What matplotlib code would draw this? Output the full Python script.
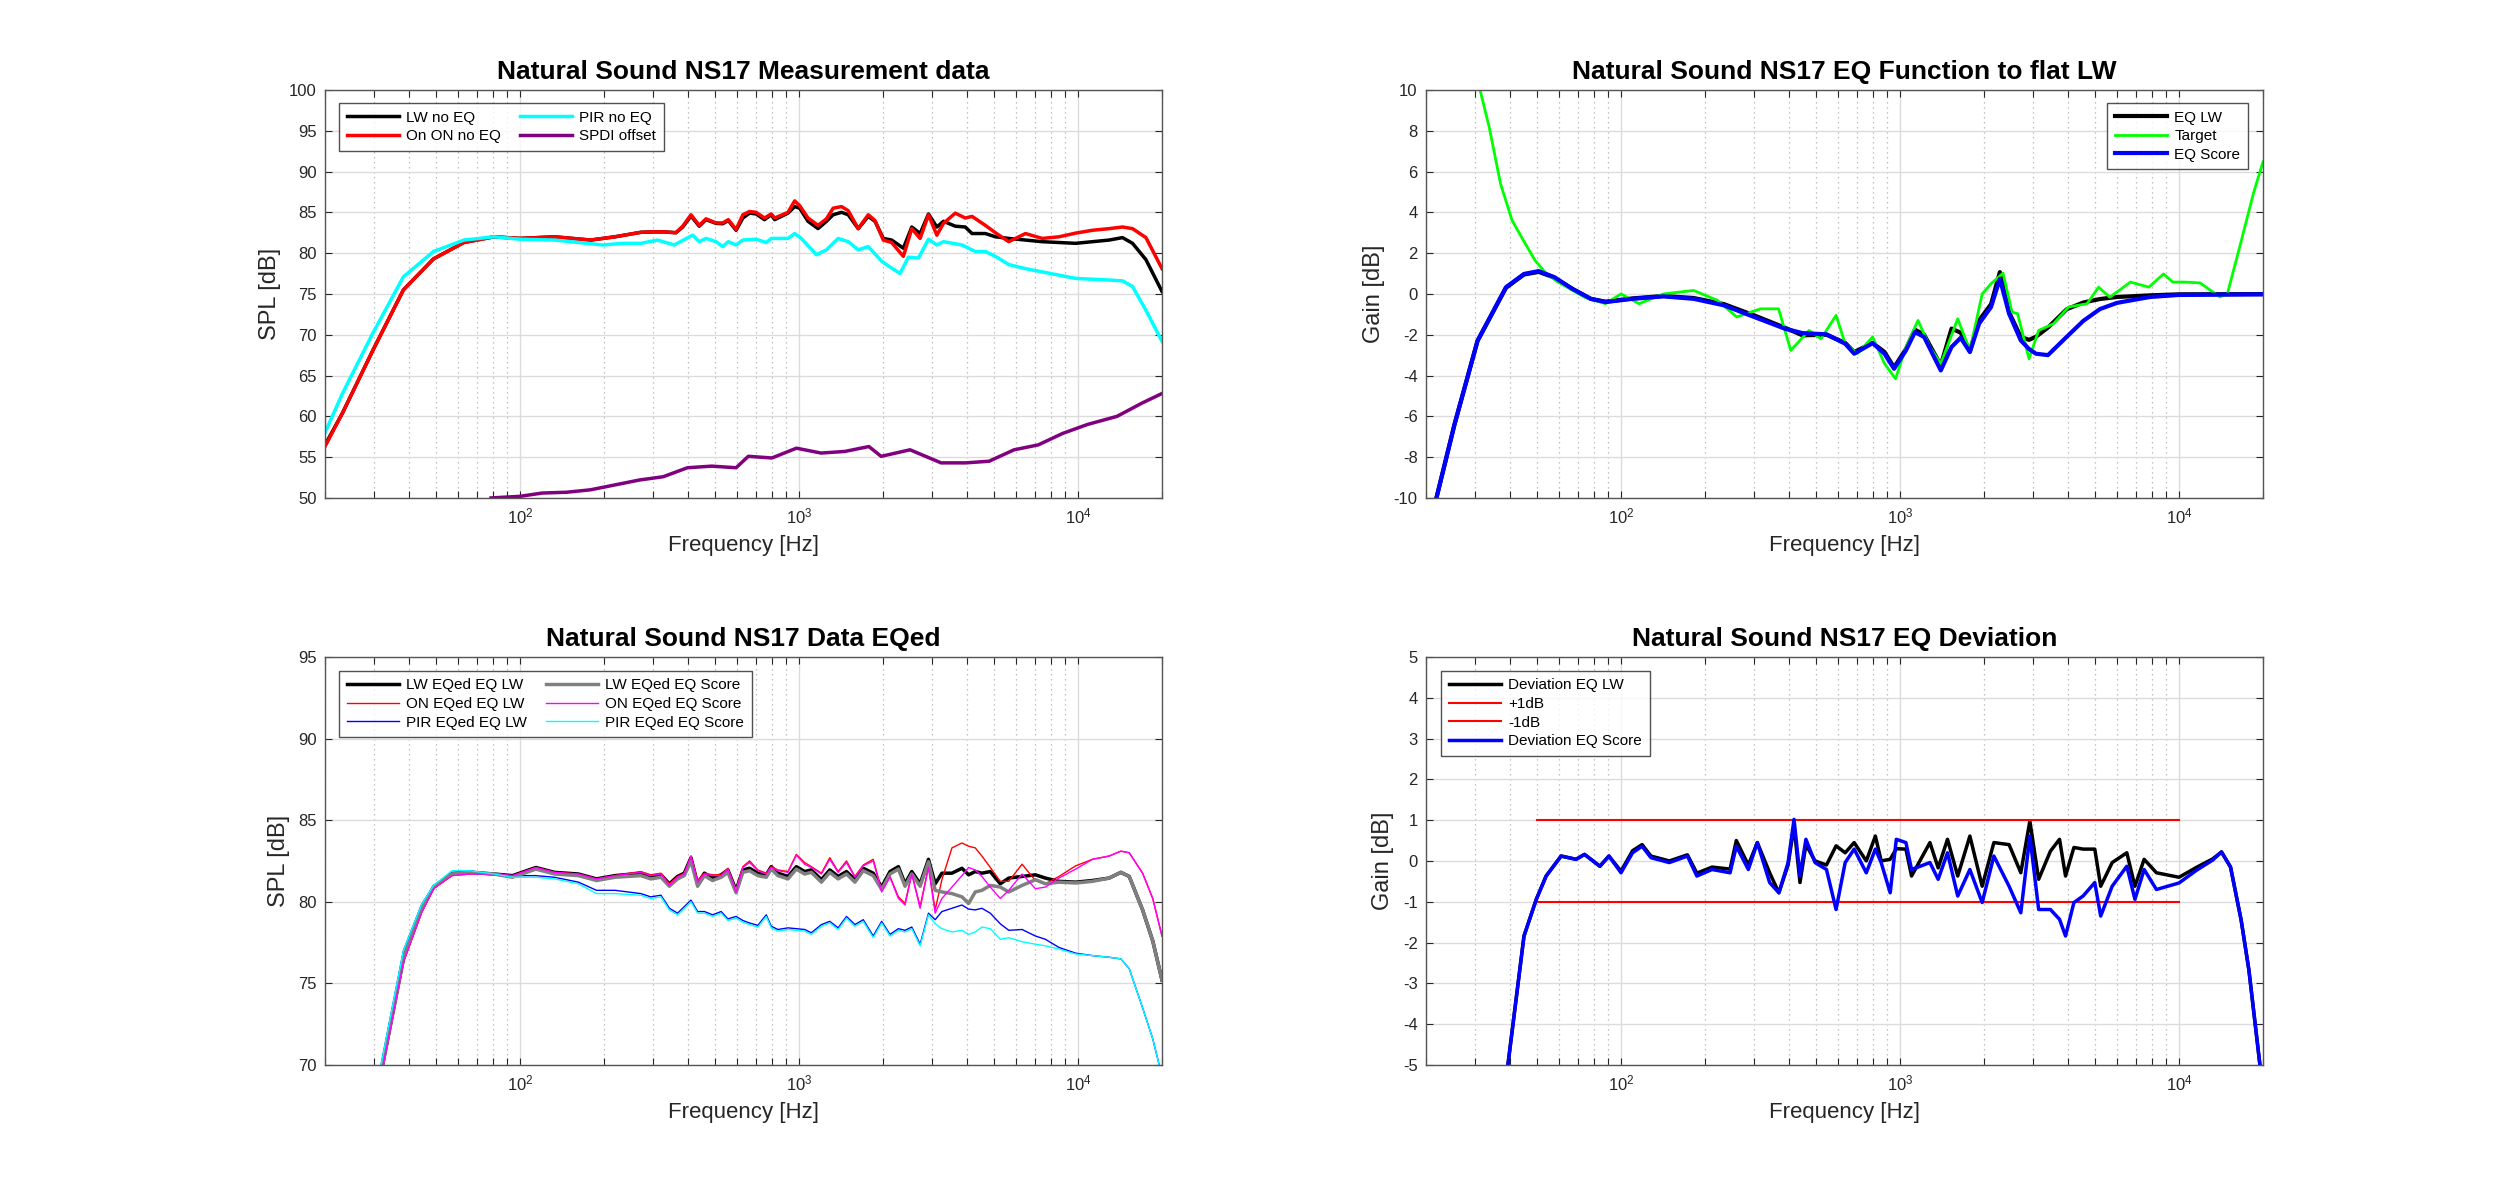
import matplotlib
matplotlib.use('Agg')
import matplotlib.pyplot as plt
from matplotlib.ticker import LogLocator, NullFormatter, MultipleLocator

plt.rcParams['font.family'] = ['Liberation Sans', 'DejaVu Sans']
plt.rcParams['mathtext.fontset'] = 'custom'
plt.rcParams['mathtext.rm'] = 'Liberation Sans'
plt.rcParams['mathtext.default'] = 'regular'
plt.rcParams['axes.unicode_minus'] = False

# --- Measurement data (top left) ---
meas_f_low = [20, 23.1, 29.7, 38.2, 49, 62.9, 80.7, 100, 133, 179, 219]
meas_f_mid = [271, 302, 329, 362, 383, 410, 439, 464, 504, 533, 558, 595, 629, 665, 702, 752,
              795, 818, 913, 965, 1006, 1077, 1170, 1254, 1325, 1420, 1501, 1630, 1771, 1872,
              2005, 2148, 2366, 2536, 2717, 2911, 3119, 3296, 3631, 3944, 4169, 4655, 5057,
              5647, 6483, 7443, 8545, 9809, 11264, 12928, 14439, 15684, 17516, 20000]
lw_noeq_low = [56.5, 60.4, 68.1, 75.5, 79.3, 81.3, 82.0, 81.8, 82.0, 81.6, 82.0]
lw_noeq_mid = [82.55, 82.6, 82.6, 82.5, 83.2, 84.55, 83.3, 84.1, 83.65, 83.6, 84.0, 82.8, 84.3,
               84.9, 84.8, 84.1, 84.7, 84.1, 84.9, 85.7, 85.5, 83.9, 83.0, 83.9, 84.7, 85.0,
               84.7, 83.0, 84.5, 83.9, 81.8, 81.6, 80.6, 83.2, 82.4, 84.8, 83.2, 83.9, 83.3,
               83.2, 82.4, 82.4, 82.0, 81.8, 81.6, 81.4, 81.3, 81.2, 81.4, 81.6, 81.9, 81.2,
               79.2, 75.3]
on_noeq_low = [56.3, 60.4, 68.1, 75.5, 79.3, 81.3, 82.0, 81.8, 82.0, 81.6, 82.0]
on_noeq_mid = [82.55, 82.6, 82.6, 82.5, 83.3, 84.7, 83.4, 84.2, 83.7, 83.7, 84.1, 82.9, 84.7,
               85.1, 85.0, 84.3, 84.8, 84.3, 85.0, 86.4, 85.8, 84.3, 83.4, 84.2, 85.5, 85.7,
               85.2, 83.0, 84.7, 84.0, 81.6, 81.3, 79.6, 83.0, 81.8, 84.7, 82.2, 83.65, 84.9,
               84.3, 84.5, 83.4, 82.5, 81.4, 82.4, 81.8, 82.0, 82.45, 82.8, 83.0, 83.2, 83.0,
               81.9, 78.1]
pir_f = [20, 23.1, 29.7, 38.2, 49, 62.9, 80.7, 100, 133, 198, 235, 271, 311, 357, 416, 439,
         464, 504, 533, 558, 595, 629, 702, 763, 795, 913, 965, 1019, 1155, 1254, 1381, 1501,
         1630, 1771, 1978, 2119, 2302, 2466, 2680, 2911, 3119, 3296, 3837, 4283, 4655, 5057,
         5647, 6483, 7443, 8545, 9809, 11264, 12928, 14439, 15684, 17516, 20000]
pir_noeq = [58.0, 62.8, 70.2, 77.1, 80.2, 81.6, 82.0, 81.7, 81.6, 81.0, 81.2, 81.2, 81.6, 81.0,
            82.2, 81.4, 81.8, 81.4, 80.8, 81.4, 81.0, 81.6, 81.7, 81.3, 81.8, 81.8, 82.4, 81.8,
            79.8, 80.4, 81.8, 81.4, 80.4, 80.8, 79.0, 78.3, 77.5, 79.5, 79.4, 81.7, 81.0, 81.4,
            81.0, 80.2, 80.2, 79.6, 78.6, 78.1, 77.7, 77.3, 76.9, 76.8, 76.7, 76.6, 75.9, 73.0,
            69.2]
spdi_f = [78.7, 100, 120, 147, 179, 219, 268, 326, 398, 487, 595, 658, 800, 979, 1200, 1460,
          1780, 1970, 2500, 3230, 3960, 4800, 5900, 7200, 8800, 10800, 13800, 16900, 20000]
spdi = [50.0, 50.2, 50.6, 50.7, 51.0, 51.6, 52.2, 52.6, 53.7, 53.9, 53.7, 55.1, 54.9, 56.1,
        55.5, 55.7, 56.3, 55.1, 55.9, 54.3, 54.3, 54.5, 55.9, 56.5, 57.9, 59.0, 60.0, 61.6, 62.8]

# --- EQ functions (top right) ---
eq_f = [20, 21.8, 25.3, 30.6, 38.7, 44.9, 50.7, 57.7, 66.9, 77.9, 88, 110, 142, 182, 234, 300,
        386, 447, 545, 636, 685, 798, 880, 952, 1050, 1131, 1220, 1400, 1530, 1650, 1780, 1920,
        2120, 2280, 2460, 2710, 2900, 3070, 3390, 3960, 4540, 5210, 5990, 7870, 10000, 20000]
eq_lw = [-12.0, -10.0, -6.4, -2.3, 0.3, 0.95, 1.08, 0.8, 0.25, -0.24, -0.38, -0.22, -0.1, -0.2,
         -0.5, -1.05, -1.65, -2.03, -2.0, -2.4, -2.85, -2.4, -2.85, -3.6, -2.7, -1.75, -2.0,
         -3.5, -1.7, -1.9, -2.8, -1.3, -0.5, 1.07, -0.9, -2.11, -2.25, -2.1, -1.65, -0.75,
         -0.42, -0.25, -0.15, -0.07, -0.02, -0.01]
eq_score = [-12.0, -10.0, -6.4, -2.3, 0.33, 0.98, 1.12, 0.82, 0.25, -0.24, -0.4, -0.24, -0.12,
            -0.24, -0.56, -1.13, -1.7, -1.92, -1.98, -2.44, -2.93, -2.41, -2.93, -3.67, -2.77,
            -1.87, -2.11, -3.75, -2.60, -2.15, -2.85, -1.46, -0.64, 0.74, -0.97, -2.28, -2.7,
            -2.93, -3.0, -2.1, -1.32, -0.74, -0.44, -0.15, -0.05, -0.02]
tgt_f = [30.6, 33.7, 37, 40.7, 44.7, 49.2, 54.1, 59.5, 74, 88, 100, 116, 142, 182, 222, 260,
         316, 367, 406, 472, 521, 590, 636, 703, 798, 880, 964, 1050, 1160, 1280, 1400, 1610,
         1780, 1970, 2120, 2340, 2520, 2640, 2900, 3140, 3550, 4020, 4680, 5150, 5650, 6700,
         7800, 8800, 9500, 10500, 11900, 14000, 14900, 16500, 18500, 20000]
target = [10.5, 8.17, 5.4, 3.6, 2.62, 1.64, 0.98, 0.58, -0.16, -0.48, 0.0, -0.48, 0.0, 0.17,
          -0.32, -1.13, -0.73, -0.73, -2.77, -1.79, -2.2, -1.05, -2.44, -2.93, -2.11, -3.42,
          -4.16, -2.6, -1.30, -2.6, -3.42, -1.22, -2.77, 0.0, 0.5, 1.02, -0.89, -0.97, -3.18,
          -1.79, -1.46, -0.64, -0.48, 0.33, -0.16, 0.58, 0.33, 0.98, 0.58, 0.58, 0.54, -0.15,
          0.0, 2.3, 4.95, 6.47]

# --- EQed data (bottom left) ---
eqd_f_low = [20, 25.3, 30.6, 32, 38.2, 44.3, 49, 57, 66, 80.7, 94, 114, 133, 162, 188, 219]
eqd_f_mid = [271, 294, 320, 343, 367, 388, 410, 433, 458, 490, 526, 556, 595, 629, 665, 712,
             763, 795, 840, 913, 978, 1048, 1107, 1203, 1289, 1381, 1480, 1586, 1699, 1845,
             1978, 2119, 2271, 2399, 2536, 2717, 2911, 3076, 3252, 3533, 3837, 4054, 4283,
             4524, 4848, 5264, 5647, 6301, 7036, 7640, 8545, 9809, 11264, 12928, 14240, 15260,
             17040, 18530, 20000]
lw_eq_lw_low = [45.0, 57.0, 68.0, 69.8, 76.5, 79.5, 80.9, 81.7, 81.8, 81.7, 81.6, 82.1, 81.8,
                81.7, 81.4, 81.6]
lw_eq_lw_mid = [81.75, 81.55, 81.65, 81.1, 81.55, 81.75, 82.7, 81.1, 81.75, 81.45, 81.65, 81.95,
                80.7, 81.95, 82.05, 81.75, 81.65, 82.15, 81.75, 81.55, 82.15, 81.85, 81.95,
                81.35, 81.95, 81.55, 81.85, 81.35, 82.05, 81.75, 80.9, 81.85, 82.15, 81.1,
                81.85, 81.1, 82.6, 81.1, 81.75, 81.75, 82.05, 81.65, 81.85, 81.75, 81.85, 81.1,
                81.45, 81.55, 81.65, 81.45, 81.25, 81.2, 81.3, 81.45, 81.8, 81.55, 79.5, 77.6,
                75.2]
on_eq_lw_low = [45.0, 56.8, 67.8, 69.6, 76.3, 79.3, 80.8, 81.6, 81.7, 81.7, 81.6, 82.1, 81.8,
                81.7, 81.4, 81.6]
on_eq_lw_mid = [81.85, 81.65, 81.75, 81.1, 81.55, 81.75, 82.8, 81.3, 81.75, 81.65, 81.65, 82.05,
                80.7, 82.15, 82.5, 81.95, 81.75, 82.15, 81.95, 81.85, 82.9, 82.4, 82.15, 81.75,
                82.7, 81.85, 82.5, 81.55, 82.25, 82.6, 80.7, 81.55, 80.3, 79.9, 81.75, 79.7,
                82.15, 79.5, 81.35, 83.3, 83.6, 83.4, 83.3, 82.8, 82.1, 81.25, 81.25, 82.3,
                81.3, 81.1, 81.55, 82.2, 82.6, 82.8, 83.1, 83.0, 81.75, 80.2, 77.9]
pir_eq_lw_low = [45.5, 57.5, 68.5, 70.3, 77.0, 79.8, 81.0, 81.8, 81.9, 81.7, 81.6, 81.6, 81.5,
                 81.2, 80.7, 80.7]
pir_eq_lw_mid = [80.5, 80.3, 80.4, 79.6, 79.3, 79.7, 80.1, 79.4, 79.4, 79.2, 79.4, 78.95, 79.1,
                 78.85, 78.7, 78.55, 79.2, 78.5, 78.3, 78.4, 78.35, 78.3, 78.1, 78.6, 78.8, 78.4,
                 79.1, 78.6, 78.9, 77.9, 78.8, 78.0, 78.35, 78.25, 78.45, 77.4, 79.3, 78.9, 79.4,
                 79.6, 79.8, 79.55, 79.5, 79.6, 79.3, 78.65, 78.25, 78.3, 77.9, 77.7, 77.2,
                 76.85, 76.7, 76.6, 76.5, 75.9, 73.5, 71.6, 69.3]
lw_eq_score_low = [45.0, 57.0, 68.0, 69.8, 76.5, 79.5, 80.9, 81.7, 81.8, 81.7, 81.5, 82.0,
                   81.7, 81.6, 81.3, 81.5]
lw_eq_score_mid = [81.6, 81.4, 81.5, 80.95, 81.4, 81.6, 82.5, 80.95, 81.6, 81.3, 81.5, 81.8,
                   80.55, 81.8, 81.9, 81.6, 81.5, 82.0, 81.6, 81.4, 82.0, 81.7, 81.8, 81.2, 81.8,
                   81.4, 81.7, 81.2, 81.9, 81.6, 80.75, 81.7, 82.0, 80.95, 81.7, 80.95, 82.45,
                   80.7, 80.6, 80.5, 80.3, 79.9, 80.6, 80.7, 81.0, 80.9, 80.6, 81.0, 81.35, 81.1,
                   81.2, 81.15, 81.25, 81.45, 81.8, 81.55, 79.5, 77.6, 75.2]
on_eq_score_low = [45.0, 56.8, 67.8, 69.6, 76.3, 79.3, 80.8, 81.6, 81.7, 81.7, 81.6, 82.1,
                   81.8, 81.7, 81.4, 81.6]
on_eq_score_mid = [81.8, 81.6, 81.7, 81.0, 81.5, 81.7, 82.8, 81.2, 81.7, 81.6, 81.6, 82.0,
                   80.6, 82.1, 82.4, 81.9, 81.7, 82.1, 81.9, 81.8, 82.85, 82.3, 82.1, 81.7, 82.6,
                   81.8, 82.4, 81.5, 82.2, 82.5, 80.6, 81.5, 80.2, 79.8, 81.7, 79.6, 82.1, 79.3,
                   80.2, 80.9, 81.6, 82.1, 81.95, 81.55, 80.9, 80.2, 80.7, 81.7, 80.8, 80.9,
                   81.45, 82.0, 82.6, 82.8, 83.1, 83.0, 81.75, 80.2, 77.9]
pir_eq_score_low = [45.5, 57.5, 68.5, 70.3, 77.0, 79.8, 81.0, 81.9, 81.9, 81.7, 81.5, 81.5,
                    81.4, 81.1, 80.5, 80.5]
pir_eq_score_mid = [80.4, 80.2, 80.3, 79.5, 79.2, 79.6, 80.0, 79.3, 79.3, 79.1, 79.3, 78.85,
                    79.0, 78.75, 78.6, 78.45, 79.1, 78.4, 78.2, 78.3, 78.25, 78.2, 78.0, 78.5,
                    78.7, 78.3, 79.0, 78.5, 78.8, 77.8, 78.7, 77.9, 78.25, 78.15, 78.35, 77.3,
                    79.2, 78.65, 78.35, 78.15, 78.25, 78.0, 78.15, 78.45, 78.35, 77.7, 77.8,
                    77.55, 77.4, 77.3, 77.1, 76.8, 76.7, 76.6, 76.5, 75.9, 73.5, 71.6, 69.3]

# --- Deviation (bottom right) ---
dev_f = [38.5, 44.9, 49.7, 53.9, 61, 69, 74, 84, 90.5, 100, 110, 119, 128, 149, 173, 187, 212,
         246, 259, 286, 308, 341, 368, 397, 417, 438, 460, 496, 545, 590, 636, 685, 757, 816,
         856, 922, 970, 1050, 1100, 1280, 1370, 1480, 1610, 1780, 1970, 2170, 2460, 2710, 2920,
         3140, 3460, 3730, 3920, 4200, 4530, 4990, 5240, 5760, 6500, 6950, 7500, 8300, 10000,
         11600, 13200, 14200, 15300, 16700, 17800, 19500, 20000]
dev_lw = [-5.5, -1.84, -0.94, -0.37, 0.12, 0.04, 0.16, -0.13, 0.12, -0.25, 0.25, 0.4, 0.12,
          0.0, 0.15, -0.3, -0.15, -0.2, 0.5, -0.1, 0.45, -0.29, -0.78, -0.1, 0.86, -0.53, 0.4,
          0.0, -0.1, 0.37, 0.2, 0.45, 0.0, 0.61, 0.0, 0.04, 0.3, 0.29, -0.37, 0.45, -0.17, 0.53,
          -0.37, 0.61, -0.62, 0.45, 0.4, -0.29, 0.98, -0.45, 0.24, 0.53, -0.37, 0.33, 0.29,
          0.29, -0.62, -0.04, 0.2, -0.62, 0.04, -0.29, -0.4, -0.15, 0.05, 0.22, -0.15, -1.45,
          -2.67, -5.0, -6.0]
dev_score = [-5.5, -1.84, -0.94, -0.37, 0.12, 0.04, 0.16, -0.13, 0.12, -0.29, 0.2, 0.36, 0.08,
             -0.04, 0.12, -0.37, -0.21, -0.29, 0.36, -0.21, 0.45, -0.53, -0.78, -0.04, 1.02,
             -0.37, 0.53, -0.04, -0.21, -1.19, -0.04, 0.29, -0.29, 0.29, -0.04, -0.78, 0.53,
             0.45, -0.21, -0.04, -0.45, 0.2, -0.86, -0.21, -1.02, 0.12, -0.62, -1.27, 0.61,
             -1.19, -1.19, -1.43, -1.84, -1.02, -0.86, -0.53, -1.35, -0.62, -0.13, -0.94, -0.21,
             -0.70, -0.54, -0.22, 0.02, 0.22, -0.15, -1.45, -2.67, -5.0, -6.0]
band_f = [50, 10000]
band_hi = [1, 1]
band_lo = [-1, -1]

EDGE = '#262626'


def style(ax, ylim, ystep, ylabel, title):
    ax.set_xscale('log')
    ax.set_xlim(20, 20000)
    ax.set_ylim(*ylim)
    ax.yaxis.set_major_locator(MultipleLocator(ystep))
    ax.xaxis.set_major_locator(LogLocator(base=10, numticks=10))
    ax.xaxis.set_minor_locator(LogLocator(base=10, subs=range(2, 10), numticks=20))
    ax.xaxis.set_minor_formatter(NullFormatter())
    ax.grid(True, which='major', color='#dcdcdc', linewidth=1.0, linestyle='-')
    ax.grid(True, which='minor', axis='x', color='#b0b0b0', linewidth=0.9, linestyle=(0, (1, 3)))
    ax.set_axisbelow(True)
    ax.tick_params(which='both', direction='in', top=True, right=True, length=5,
                   width=0.8, color=EDGE, labelcolor=EDGE, labelsize=12, pad=6)
    for s in ax.spines.values():
        s.set_color('#555555')
        s.set_linewidth(1.0)
    ax.set_xlabel('Frequency [Hz]', fontsize=16, color=EDGE, labelpad=6)
    ax.set_ylabel(ylabel, fontsize=17, color=EDGE, labelpad=6)
    ax.set_title(title, fontsize=19, fontweight='bold', pad=8)


def leg(ax, loc, anchor, ncol):
    lg = ax.legend(loc=loc, bbox_to_anchor=anchor, ncol=ncol, fontsize=11, frameon=True,
                   fancybox=False, edgecolor=EDGE, borderaxespad=0, handlelength=3.4,
                   labelspacing=0.3, columnspacing=1.2, borderpad=0.5, handletextpad=0.5)
    lg.get_frame().set_linewidth(1.0)


meas_f = meas_f_low + meas_f_mid
eqd_f = eqd_f_low + eqd_f_mid

fig = plt.figure(figsize=(25, 11.97), dpi=100)

ax1 = fig.add_axes([0.130, 0.5840, 0.3348, 0.3409])
ax1.plot(meas_f, lw_noeq_low + lw_noeq_mid, color='k', lw=2.5, label='LW no EQ')
ax1.plot(meas_f, on_noeq_low + on_noeq_mid, color='#ff0000', lw=2.5, label='On ON no EQ')
ax1.plot(pir_f, pir_noeq, color='#00ffff', lw=2.5, label='PIR no EQ')
ax1.plot(spdi_f, spdi, color='#800080', lw=2.5, label='SPDI offset')
style(ax1, (50, 100), 5, 'SPL [dB]', 'Natural Sound NS17 Measurement data')
leg(ax1, 'upper left', (0.017, 0.968), 2)

ax2 = fig.add_axes([0.5704, 0.5840, 0.3348, 0.3409])
ax2.plot(eq_f, eq_lw, color='k', lw=3, label='EQ LW')
ax2.plot(tgt_f, target, color='#00ff00', lw=2, label='Target')
ax2.plot(eq_f, eq_score, color='#0000ff', lw=3, label='EQ Score')
style(ax2, (-10, 10), 2, 'Gain [dB]', 'Natural Sound NS17 EQ Function to flat LW')
leg(ax2, 'upper right', (0.982, 0.968), 1)

ax3 = fig.add_axes([0.130, 0.1103, 0.3348, 0.3409])
ax3.plot(eqd_f, lw_eq_lw_low + lw_eq_lw_mid, color='k', lw=2.5, label='LW EQed EQ LW')
ax3.plot(eqd_f, on_eq_lw_low + on_eq_lw_mid, color='#ff0000', lw=1.0, label='ON EQed EQ LW')
ax3.plot(eqd_f, pir_eq_lw_low + pir_eq_lw_mid, color='#0000ff', lw=1.0, label='PIR EQed EQ LW')
ax3.plot(eqd_f, lw_eq_score_low + lw_eq_score_mid, color='#808080', lw=2.5,
         label='LW EQed EQ Score')
ax3.plot(eqd_f, on_eq_score_low + on_eq_score_mid, color='#ff00ff', lw=1.0,
         label='ON EQed EQ Score')
ax3.plot(eqd_f, pir_eq_score_low + pir_eq_score_mid, color='#00ffff', lw=1.0,
         label='PIR EQed EQ Score')
style(ax3, (70, 95), 5, 'SPL [dB]', 'Natural Sound NS17 Data EQed')
leg(ax3, 'upper left', (0.017, 0.966), 2)

ax4 = fig.add_axes([0.5704, 0.1103, 0.3348, 0.3409])
ax4.plot(dev_f, dev_lw, color='k', lw=2.5, label='Deviation EQ LW')
ax4.plot(band_f, band_hi, color='#ff0000', lw=1.5, label='+1dB')
ax4.plot(band_f, band_lo, color='#ff0000', lw=1.5, label='-1dB')
ax4.plot(dev_f, dev_score, color='#0000ff', lw=2.5, label='Deviation EQ Score')
style(ax4, (-5, 5), 1, 'Gain [dB]', 'Natural Sound NS17 EQ Deviation')
leg(ax4, 'upper left', (0.018, 0.966), 1)

fig.savefig('out.png', dpi=100, facecolor='white')
